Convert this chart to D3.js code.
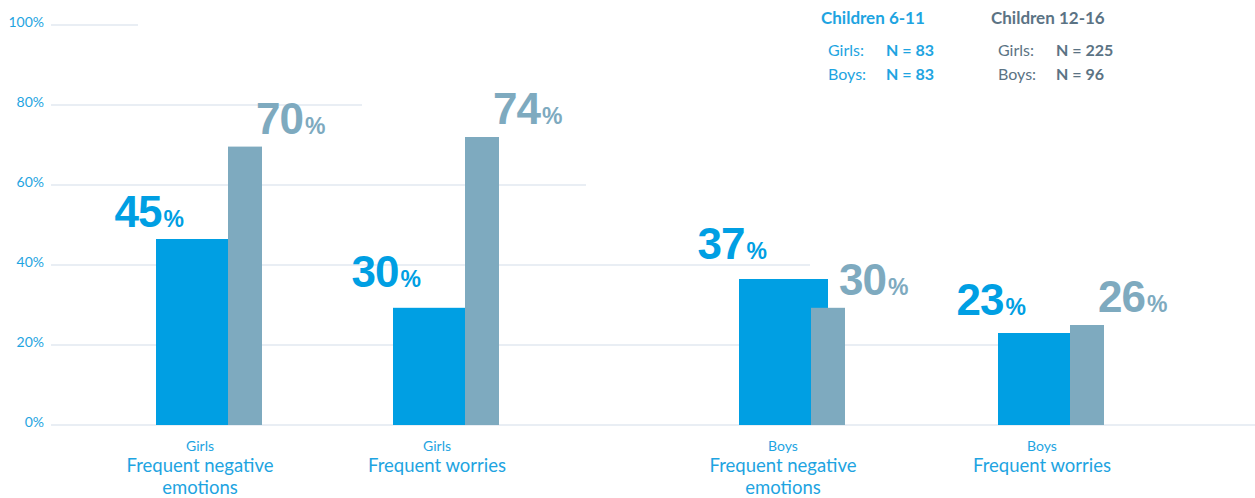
<!DOCTYPE html>
<html>
<head>
<meta charset="utf-8">
<script src="https://cdn.jsdelivr.net/npm/d3@7"></script>
<style>
  html, body { margin: 0; padding: 0; background: #fff; }
  svg { display: block; }
</style>
</head>
<body>
<svg id="chart" width="1255" height="498"></svg>
<script>
// ---- data ----
const categories = ["girlsNeg", "girlsWorry", "boysNeg", "boysWorry"];
const genderLabels = ["Girls", "Girls", "Boys", "Boys"];
const topicLabels = [["Frequent negative", "emotions"], ["Frequent worries"], ["Frequent negative", "emotions"], ["Frequent worries"]];
const children611 = [46.5, 29.3, 36.5, 23.0];   // bar heights as drawn
const children1216 = [69.6, 72.0, 29.3, 25.0];
const labels611 = [45, 30, 37, 23];             // printed labels
const labels1216 = [70, 74, 30, 26];
const yTicks = [0, 20, 40, 60, 80, 100];
const legendTitles = ["Children 6-11", "Children 12-16"];
const legendRows = ["Girls:", "Boys:"];
const legendN = [[83, 83], [225, 96]];

// ---- styles ----
const BLUE = "#009fe3", GRAY = "#7eaabf";
const TXT_BLUE = "#1ea4e1", TXT_GRAY = "#5b7384";
const GRID = "#e9eef4";
const blueW = 72, grayW = 34;

const svg = d3.select("#chart");

const y = d3.scaleLinear().domain([0, 100]).range([425, 25]);
const x = d3.scaleOrdinal().domain(categories).range([156, 393, 739, 998]);
const gridEnd = d3.scaleLinear().domain([100, 0]).range([138, 1258]);

// gridlines (staircase)
svg.append("g").selectAll("line").data(yTicks).join("line")
  .attr("x1", 51).attr("x2", d => gridEnd(d))
  .attr("y1", d => y(d)).attr("y2", d => y(d))
  .attr("stroke", GRID).attr("stroke-width", 2);

// y tick labels
svg.append("g").selectAll("text").data(yTicks).join("text")
  .attr("x", 44).attr("y", d => y(d) + 2)
  .attr("text-anchor", "end")
  .attr("font-family", "Lato, 'Noto Sans', sans-serif")
  .attr("font-size", 14)
  .attr("fill", TXT_BLUE)
  .text(d => d + "%");

// bars 6-11 (blue) — the boys' negative bar is drawn wider, partly hidden
const blueWidth = (c) => c === "boysNeg" ? 89 : blueW;
svg.append("g").selectAll("rect").data(categories).join("rect")
  .attr("x", c => x(c))
  .attr("y", (c, i) => y(children611[i]))
  .attr("width", c => blueWidth(c))
  .attr("height", (c, i) => y(0) - y(children611[i]))
  .attr("fill", BLUE);

// bars 12-16 (gray)
svg.append("g").selectAll("rect").data(categories).join("rect")
  .attr("x", c => x(c) + blueW)
  .attr("y", (c, i) => y(children1216[i]))
  .attr("width", grayW)
  .attr("height", (c, i) => y(0) - y(children1216[i]))
  .attr("fill", GRAY);

// big value labels
function bigLabel(g, val, color) {
  g.append("tspan").attr("font-size", 44).attr("letter-spacing", -1).text(val);
  g.append("tspan").attr("font-size", 23).attr("dx", 2).text("%");
  g.attr("fill", color);
}
const lblFont = "'Liberation Sans', Arial, Helvetica, sans-serif";
categories.forEach((c, i) => {
  const t1 = svg.append("text")
    .attr("x", x(c) + 28)
    .attr("y", y(labels611[i]) - 18)
    .attr("text-anchor", "end")
    .attr("font-family", lblFont).attr("font-weight", "bold");
  bigLabel(t1, labels611[i], BLUE);
  const t2 = svg.append("text")
    .attr("x", x(c) + blueW + grayW - 6)
    .attr("y", y(children1216[i]) - 13)
    .attr("text-anchor", "start")
    .attr("font-family", lblFont).attr("font-weight", "bold");
  bigLabel(t2, labels1216[i], GRAY);
});

// category labels
const catFont = "Lato, 'Noto Sans', sans-serif";
categories.forEach((c, i) => {
  const cx = x(c) + 44;
  svg.append("text").attr("x", cx).attr("y", 451)
    .attr("text-anchor", "middle").attr("font-family", catFont)
    .attr("font-size", 14).attr("fill", TXT_BLUE).text(genderLabels[i]);
  topicLabels[i].forEach((line, k) => {
    svg.append("text").attr("x", cx).attr("y", 472 + k * 22)
      .attr("text-anchor", "middle").attr("font-family", catFont)
      .attr("font-size", 18.5).attr("fill", TXT_BLUE).text(line);
  });
});

// legend
const legX = [821, 991];
const legColors = [TXT_BLUE, TXT_GRAY];
legendTitles.forEach((title, j) => {
  svg.append("text").attr("x", legX[j]).attr("y", 24)
    .attr("font-family", catFont).attr("font-weight", "bold")
    .attr("font-size", 17).attr("fill", legColors[j]).text(title);
  legendRows.forEach((row, k) => {
    svg.append("text").attr("x", legX[j] + 7).attr("y", 56 + k * 24)
      .attr("font-family", catFont).attr("font-size", 16)
      .attr("fill", legColors[j]).text(row);
    svg.append("text").attr("x", legX[j] + 65).attr("y", 56 + k * 24)
      .attr("font-family", catFont).attr("font-weight", "bold").attr("font-size", 16)
      .attr("fill", legColors[j]).text("N = " + legendN[j][k]);
  });
});
</script>
</body>
</html>
